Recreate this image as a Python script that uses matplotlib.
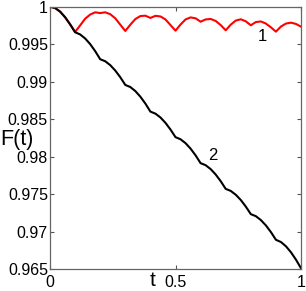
import matplotlib
matplotlib.use("Agg")
import matplotlib.pyplot as plt
import numpy as np

plt.rcParams['font.family'] = ['Liberation Sans', 'DejaVu Sans']

# time grid (step 0.02)
t = np.round(np.arange(0, 1.0001, 0.02), 2)

# curve 1 (red)
f1 = [1.0, 0.99983, 0.99935, 0.99860, 0.99765,
      0.99663, 0.99750, 0.99840, 0.99895, 0.99925,
      0.99915, 0.99925, 0.99900, 0.99845, 0.99760,
      0.99676, 0.99760, 0.99835, 0.99875, 0.99880,
      0.99850, 0.99878, 0.99870, 0.99830, 0.99755,
      0.99680, 0.99762, 0.99830, 0.99857, 0.99845,
      0.99800, 0.99830, 0.99836, 0.99810, 0.99755,
      0.99685, 0.99760, 0.99815, 0.99832, 0.99805,
      0.99752, 0.99795, 0.99803, 0.99775, 0.99725,
      0.99667, 0.99735, 0.99775, 0.99787, 0.99770,
      0.99733]

# curve 2 (black)
f2 = [1.0, 0.99983, 0.99935, 0.99860, 0.99765,
      0.99659, 0.99630, 0.99576, 0.99501, 0.99407,
      0.99299, 0.99272, 0.99220, 0.99148, 0.99059,
      0.98956, 0.98928, 0.98874, 0.98799, 0.98707,
      0.98600, 0.98573, 0.98522, 0.98450, 0.98361,
      0.98259, 0.98231, 0.98179, 0.98106, 0.98016,
      0.97912, 0.97885, 0.97833, 0.97761, 0.97672,
      0.97569, 0.97542, 0.97491, 0.97421, 0.97333,
      0.97232, 0.97205, 0.97153, 0.97082, 0.96993,
      0.96890, 0.96860, 0.96803, 0.96723, 0.96624,
      0.96510]

xticks = [0, 0.5, 1]
xticklabels = ['0', '0.5', '1']
yticks = [0.965, 0.97, 0.975, 0.98, 0.985, 0.99, 0.995, 1.0]
yticklabels = ['0.965', '0.97', '0.975', '0.98', '0.985', '0.99', '0.995', '1']

fig = plt.figure(figsize=(3.06, 2.91), dpi=100)
ax = fig.add_axes([0.1634, 0.0756, 0.8203, 0.9014])

ax.plot(t, f1, color='red', linewidth=1.5)
ax.plot(t, f2, color='black', linewidth=1.5)

ax.set_xlim(0, 1)
ax.set_ylim(0.965, 1.0)
ax.set_xticks(xticks)
ax.set_xticklabels(xticklabels)
ax.set_yticks(yticks)
ax.set_yticklabels(yticklabels)
ax.tick_params(direction='in', length=3, width=0.8, color='#555555',
               top=True, right=True, labelsize=11.5)
ax.tick_params(axis='y', pad=1.5)
ax.tick_params(axis='x', pad=4)
for s in ax.spines.values():
    s.set_color('#666666')
    s.set_linewidth(0.9)

ax.text(0.845, 0.99596, '1', fontsize=12, ha='center', va='center')
ax.text(0.649, 0.9801, '2', fontsize=12, ha='center', va='center')

ax.text(0.41, -0.045, 't', transform=ax.transAxes, fontsize=15,
        ha='center', va='center')
fig.text(0.0, 0.519, 'F(t)', fontsize=15.5, ha='left', va='center')

fig.savefig('out.png', dpi=100)
